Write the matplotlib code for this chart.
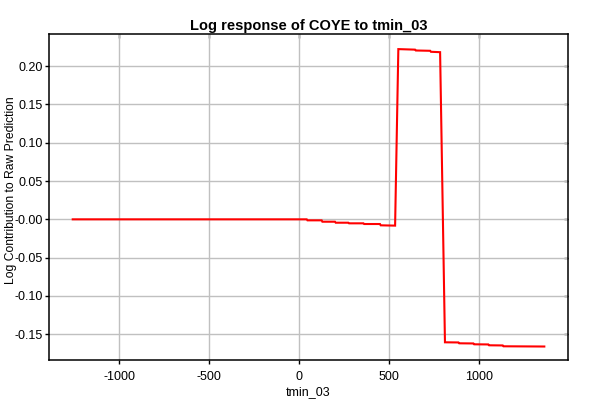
"""Maxent-style response curve: log response of COYE to tmin_03."""

import matplotlib
import matplotlib.pyplot as plt

matplotlib.use("Agg")

plt.rcParams["font.family"] = ["Liberation Sans", "DejaVu Sans"]

# ---------------------------------------------------------------------------
# Data (vertices of the stepped line)
# ---------------------------------------------------------------------------

tmin_03 = [
    -1259, 41, 45, 124, 128, 198, 202, 272, 276, 356, 360, 448, 452, 532,
    550, 643, 647, 727, 731, 782,
    809, 884, 888, 967, 971, 1050, 1054, 1130, 1134, 1361,
]
log_contribution = [
    0.0, 0.0, -0.0013, -0.0013, -0.0031, -0.0031, -0.0044, -0.0044,
    -0.0052, -0.0052, -0.0061, -0.0061, -0.0078, -0.0082,
    0.2222, 0.2215, 0.2204, 0.2200, 0.2187, 0.2182,
    -0.1605, -0.1607, -0.1618, -0.1620, -0.1631, -0.1633, -0.1644, -0.1646,
    -0.1657, -0.1660,
]

x_ticks = [-1000, -500, 0, 500, 1000]
y_ticks = [-0.15, -0.10, -0.05, 0.0, 0.05, 0.10, 0.15, 0.20]
y_tick_labels = ["-0.15", "-0.10", "-0.05", "-0.00", "0.05", "0.10", "0.15", "0.20"]

# ---------------------------------------------------------------------------
# Chart
# ---------------------------------------------------------------------------

fig = plt.figure(figsize=(6, 4), dpi=100)
ax = fig.add_axes([0.0822, 0.10, 0.864, 0.814])

ax.plot(tmin_03, log_contribution, color="#ff0000", linewidth=1.5,
        solid_joinstyle="miter", zorder=3)

ax.set_xlim(-1389, 1491)
ax.set_ylim(-0.1836, 0.2414)

ax.set_xticks(x_ticks)
ax.set_xticklabels([str(t) for t in x_ticks])
ax.set_yticks(y_ticks)
ax.set_yticklabels(y_tick_labels)

ax.grid(True, color="#c0c0c0", linewidth=1.0)
ax.set_axisbelow(True)

for spine in ax.spines.values():
    spine.set_linewidth(1.1)
    spine.set_color("black")

ax.tick_params(axis="both", which="major", labelsize=9, length=3,
               width=1, direction="out", pad=2,
               top=False, right=False)
ax.tick_params(axis="x", pad=5)

# inward ticks on the top and right edges
sec_x = ax.secondary_xaxis("top")
sec_x.set_xticks(x_ticks)
sec_x.set_xticklabels([])
sec_x.tick_params(direction="in", length=3, width=1)
sec_x.spines["top"].set_visible(False)
sec_y = ax.secondary_yaxis("right")
sec_y.set_yticks(y_ticks)
sec_y.set_yticklabels([])
sec_y.tick_params(direction="in", length=3, width=1)
sec_y.spines["right"].set_visible(False)

ax.set_title("Log response of COYE to tmin_03", fontsize=10.5,
             fontweight="bold", pad=3)
ax.set_xlabel("tmin_03", fontsize=9, labelpad=2)
ax.set_ylabel("Log Contribution to Raw Prediction", fontsize=8.7)
ax.yaxis.set_label_coords(-0.063, 0.523)

fig.savefig("out.png", dpi=100)
plt.close(fig)
